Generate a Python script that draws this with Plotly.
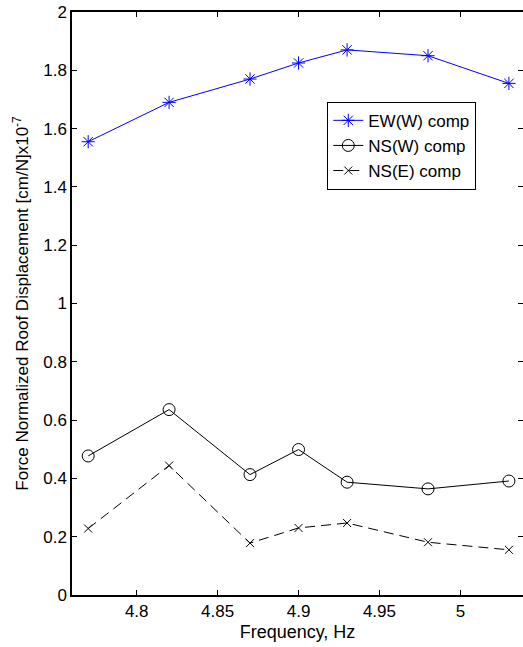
import plotly.graph_objects as go

freq = [4.77, 4.82, 4.87, 4.90, 4.93, 4.98, 5.03]
ew_w = [1.555, 1.690, 1.770, 1.825, 1.870, 1.850, 1.755]
ns_w = [0.477, 0.636, 0.413, 0.499, 0.387, 0.364, 0.391]
ns_e = [0.228, 0.444, 0.178, 0.230, 0.247, 0.181, 0.155]

x_ticks = [4.8, 4.85, 4.9, 4.95, 5.0]
x_tick_labels = ["4.8", "4.85", "4.9", "4.95", "5"]
y_ticks = [0, 0.2, 0.4, 0.6, 0.8, 1.0, 1.2, 1.4, 1.6, 1.8, 2.0]
y_tick_labels = ["0", "0.2", "0.4", "0.6", "0.8", "1", "1.2", "1.4", "1.6", "1.8", "2"]

FONT = "Liberation Sans, Arial, Helvetica, sans-serif"

fig = go.Figure()
fig.add_trace(go.Scatter(
    x=freq, y=ew_w, mode="lines+markers", name="EW(W) comp",
    line=dict(color="#0000ff", width=1),
    marker=dict(symbol="asterisk-open", size=11, color="#0000ff", line=dict(width=1, color="#0000ff")),
))
fig.add_trace(go.Scatter(
    x=freq, y=ns_w, mode="lines+markers", name="NS(W) comp",
    line=dict(color="black", width=1),
    marker=dict(symbol="circle-open", size=12, color="black", line=dict(width=1, color="black")),
))
fig.add_trace(go.Scatter(
    x=freq, y=ns_e, mode="lines+markers", name="NS(E) comp",
    line=dict(color="black", width=1, dash="10px,6px"),
    marker=dict(symbol="x-thin-open", size=8, color="black", line=dict(width=1, color="black")),
))
# invisible trace to drive the right-hand tick axis
fig.add_trace(go.Scatter(x=[freq[0]], y=[ns_e[0]], yaxis="y2", mode="markers",
                         marker=dict(opacity=0), showlegend=False, hoverinfo="skip"))

fig.update_layout(
    width=523, height=647,
    margin=dict(l=71.5, r=0, t=12, b=51.5, pad=0),
    paper_bgcolor="white", plot_bgcolor="white",
    font=dict(family=FONT, size=17, color="black"),
    showlegend=True,
    legend=dict(
        x=0.566, y=0.846, xanchor="left", yanchor="top",
        bgcolor="white", bordercolor="black", borderwidth=1,
        font=dict(family=FONT, size=17, color="black"),
        itemwidth=30, tracegroupgap=0,
    ),
    xaxis=dict(
        range=[4.76, 5.0387],
        tickvals=x_ticks, ticktext=x_tick_labels,
        ticks="inside", ticklen=5, tickcolor="black", tickwidth=1,
        showline=True, linecolor="black", linewidth=1.5, mirror="ticks",
        showgrid=False, zeroline=False,
        title=dict(text="Frequency, Hz", font=dict(size=18), standoff=5),
        tickfont=dict(size=17),
    ),
    yaxis=dict(
        range=[0, 2],
        tickvals=y_ticks, ticktext=y_tick_labels,
        ticks="inside", ticklen=5, tickcolor="black", tickwidth=1,
        showline=True, linecolor="black", linewidth=1.5, mirror=False,
        showgrid=False, zeroline=False,
        title=dict(text="Force Normalized Roof Displacement [cm/N]x10<sup>-7</sup>",
                   font=dict(size=17), standoff=10),
        tickfont=dict(size=17),
    ),
    yaxis2=dict(
        range=[0, 2], overlaying="y", side="right",
        tickvals=y_ticks, showticklabels=False,
        ticks="inside", ticklen=5, tickcolor="black", tickwidth=1,
        showline=False, showgrid=False, zeroline=False,
    ),
)

fig.write_html("out.html")
